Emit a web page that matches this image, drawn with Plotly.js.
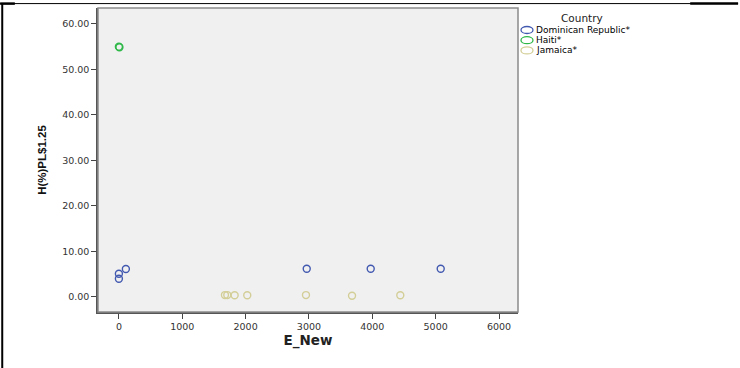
<!DOCTYPE html>
<html>
<head>
<meta charset="utf-8">
<script src="https://cdn.plot.ly/plotly-3.0.1.min.js"></script>
<style>
html,body{margin:0;padding:0;background:#fff;}
#chart{width:740px;height:368px;}
</style>
</head>
<body>
<div id="chart"></div>
<script>
// Data
const countries = ["Dominican Republic*", "Haiti*", "Jamaica*"];
const colors = ["#4259B0", "#2EB848", "#D3CE97"];
const drX = [0, 0, 110, 2965, 3975, 5080];
const drY = [5.05, 3.95, 6.1, 6.15, 6.15, 6.15];
const haitiX = [0, 8];
const haitiY = [55.0, 54.85];
const jamX = [1674, 1711, 1827, 2026, 2953, 3680, 4442];
const jamY = [0.35, 0.35, 0.3, 0.3, 0.35, 0.2, 0.3];
const yTicks = [0, 10, 20, 30, 40, 50, 60];
const xTicks = [0, 1000, 2000, 3000, 4000, 5000, 6000];

const xs = [drX, haitiX, jamX];
const ys = [drY, haitiY, jamY];

const traces = countries.map((name, i) => ({
  type: "scatter",
  mode: "markers",
  name: name,
  x: xs[i],
  y: ys[i],
  marker: {symbol: "circle-open", size: 7, color: colors[i], line: {width: 1.4, color: colors[i]}},
  hoverinfo: "x+y+name",
  showlegend: false
}));

const sans = "DejaVu Sans, Liberation Sans, sans-serif";
const tickFont = {family: sans, size: 9.5, color: "#333"};

// Custom compact legend (SPSS style): rows ~10px apart
const legRowsY = [0.9276, 0.8941, 0.8605];
const legendShapes = countries.map((c, i) => ({
  type: "circle", xref: "paper", yref: "paper",
  xsizemode: "pixel", ysizemode: "pixel",
  xanchor: 1.0214, yanchor: legRowsY[i],
  x0: -6, x1: 6, y0: -3.5, y1: 3.5,
  line: {color: colors[i], width: 1.3}, fillcolor: "rgba(0,0,0,0)"
}));
const legendAnn = countries.map((c, i) => ({
  xref: "paper", yref: "paper", x: 1.0405, y: legRowsY[i],
  xanchor: "left", yanchor: "middle", showarrow: false, borderpad: 0,
  text: c, font: {family: sans, size: 9, color: "#000"}
}));
legendAnn.push({
  xref: "paper", yref: "paper", x: 1.1524, y: 0.967,
  xanchor: "center", yanchor: "middle", showarrow: false, borderpad: 0,
  text: "Country", font: {family: sans, size: 10.5, color: "#222"}
});

const layout = {
  width: 740,
  height: 368,
  margin: {l: 98, r: 222, t: 8, b: 56},
  paper_bgcolor: "#ffffff",
  plot_bgcolor: "#F0F0F0",
  showlegend: false,
  xaxis: {
    range: [-330, 6300],
    tickvals: xTicks,
    ticktext: xTicks.map(String),
    ticks: "outside", ticklen: 5, tickwidth: 1.2, tickcolor: "#444",
    showgrid: false, zeroline: false,
    showline: true, linecolor: "#555", linewidth: 1.5,
    tickfont: tickFont,
    title: {text: "E_New", standoff: 4, font: {family: sans, size: 13.5, weight: "bold", color: "#222"}}
  },
  yaxis: {
    range: [-3.37, 63.5],
    tickvals: yTicks,
    ticktext: yTicks.map(v => v.toFixed(2)),
    ticks: "outside", ticklen: 5, tickwidth: 1.2, tickcolor: "#444",
    showgrid: false, zeroline: false,
    showline: true, linecolor: "#555", linewidth: 1.5,
    tickfont: tickFont,
    title: {text: "H(%)PL$1.25", standoff: 13, font: {family: "Liberation Sans, Arial, sans-serif", size: 11.5, weight: "bold", color: "#111"}}
  },
  annotations: legendAnn,
  shapes: [
    {type: "rect", xref: "paper", yref: "paper", x0: 0, x1: 1, y0: 0, y1: 1, line: {color: "#8a8a8a", width: 1.5}, layer: "above"},
    // page frame lines of the source document
    {type: "line", xref: "paper", yref: "paper", x0: -0.228, x1: -0.228, y0: 1.016, y1: -0.184, line: {color: "#000", width: 2}},
    {type: "line", xref: "paper", yref: "paper", x0: -0.233, x1: 1.524, y0: 1.0145, y1: 1.0145, line: {color: "#000", width: 1}},
    {type: "line", xref: "paper", yref: "paper", x0: -0.233, x1: -0.198, y0: 1.0145, y1: 1.0145, line: {color: "#000", width: 2.5}},
    {type: "line", xref: "paper", yref: "paper", x0: 1.41, x1: 1.524, y0: 1.0145, y1: 1.0145, line: {color: "#000", width: 2.5}}
  ].concat(legendShapes)
};

Plotly.newPlot("chart", traces, layout, {displayModeBar: false});
</script>
</body>
</html>
